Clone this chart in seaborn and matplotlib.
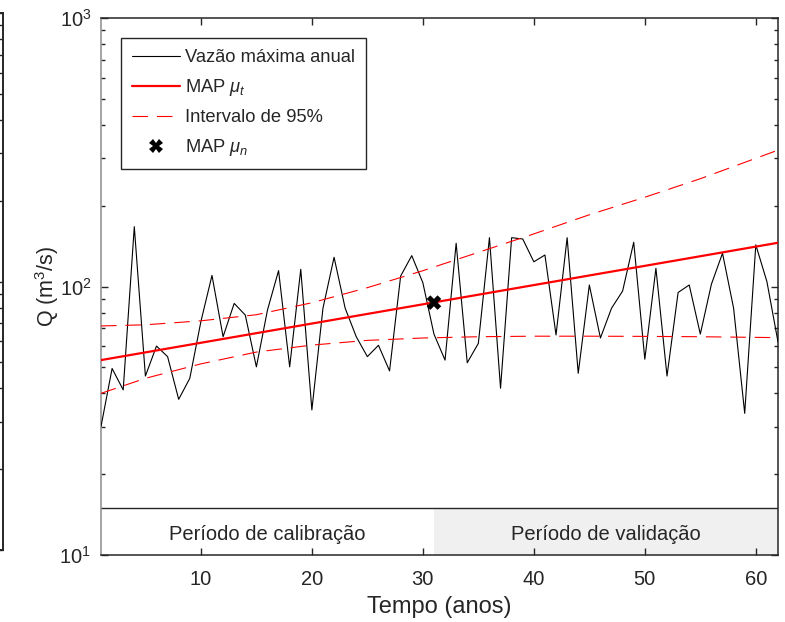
import numpy as np
import pandas as pd
import matplotlib
matplotlib.use("Agg")
import matplotlib.pyplot as plt
from matplotlib.lines import Line2D
import seaborn as sns

# annual maximum flow (m3/s), years 1..62
anos = np.arange(1, 63)
vazao = [30.1, 49.5, 41.2, 167.0, 46.4, 60.0, 54.8, 38.0, 45.5, 74.0,
         110.0, 65.0, 86.5, 78.3, 50.2, 81.7, 114.6, 50.2, 115.9, 34.7,
         83.0, 128.5, 83.0, 65.0, 54.8, 60.4, 48.5, 109.4, 130.3, 103.3,
         66.5, 53.2, 144.9, 52.0, 61.4, 152.0, 41.8, 152.0, 150.3, 123.6,
         131.0, 66.0, 152.0, 47.5, 101.3, 64.3, 83.0, 96.2, 146.2, 53.6,
         116.9, 46.4, 95.0, 101.3, 66.5, 102.0, 133.0, 83.0, 33.7, 142.9,
         104.3, 62.2]

# MAP trend (straight on the log axis), end points
map_anos = [1, 62]
map_mu_t = [53.2, 145.5]

# 95% interval read at some years
int_anos = [1, 5, 10, 15, 20, 25, 30, 35, 40, 45, 50, 55, 62]
int_sup = [71.3, 72.0, 74.5, 78.5, 87.0, 99.0, 114.5, 134.0, 157.0, 185.0, 215.0, 252.0, 322.0]
int_inf = [40.0, 45.5, 51.5, 57.0, 60.5, 63.0, 64.3, 65.0, 65.3, 65.3, 65.2, 65.0, 64.5]

# MAP mu_n
mu_n_ano = [31]
mu_n_val = [87.1]

# periods
calib = (1, 31)
valid = (31, 62)
faixa_topo = 15.0

df = pd.DataFrame({"ano": anos, "vazao": vazao})
band = pd.DataFrame({"ano": int_anos, "sup": int_sup, "inf": int_inf})
trend = pd.DataFrame({"ano": map_anos, "mu": map_mu_t})

sns.set_style("ticks")
plt.rcParams["font.family"] = ["Liberation Sans", "DejaVu Sans"]
plt.rcParams["mathtext.fontset"] = "custom"
plt.rcParams["mathtext.rm"] = "Liberation Sans"
plt.rcParams["mathtext.it"] = "Liberation Sans:italic"

axcol = "#262626"
fig = plt.figure(figsize=(7.85, 6.22), dpi=100)

# sliver of the neighbouring panel on the left edge
ax0 = fig.add_axes([(3 - 200) / 785, (622 - 550) / 622, 200 / 785, 537 / 622])
ax0.set_yscale("log")
ax0.set_ylim(10, 1000)
ax0.set_xlim(0, 1)
ax0.yaxis.tick_right()
ax0.tick_params(axis="y", which="both", direction="in", labelright=False, color=axcol, width=1.0)
ax0.tick_params(axis="y", which="major", length=5)
ax0.tick_params(axis="y", which="minor", length=3)
ax0.set_xticks([])
for s in ax0.spines.values():
    s.set_color(axcol)
    s.set_linewidth(1.4)

ax = fig.add_axes([101 / 785, 1 - 555 / 622, 677 / 785, 537 / 622])
ax.set_yscale("log")

# period boxes at the bottom
ax.fill_between(list(valid), 10, faixa_topo, color="#f0f0f0", lw=0, zorder=0)
ax.axhline(faixa_topo, color=axcol, lw=1.0, zorder=1)
ax.text(np.mean(calib), 11.9, "Período de calibração", ha="center", va="center", fontsize=14.5)
ax.text(np.mean(valid), 11.9, "Período de validação", ha="center", va="center", fontsize=14.5)

sns.lineplot(data=df, x="ano", y="vazao", color="black", lw=0.8, ax=ax, zorder=3)
sns.lineplot(data=band, x="ano", y="sup", color="red", lw=0.8, dashes=(14, 8), ax=ax, zorder=4)
sns.lineplot(data=band, x="ano", y="inf", color="red", lw=0.8, dashes=(14, 8), ax=ax, zorder=4)
sns.lineplot(data=trend, x="ano", y="mu", color="red", lw=1.6, ax=ax, zorder=5)
sns.scatterplot(x=mu_n_ano, y=mu_n_val, marker="X", s=110, color="black", edgecolor="none", ax=ax, zorder=6)

ax.set_xlim(1, 62)
ax.set_ylim(10, 1000)
ax.set_xticks([10, 20, 30, 40, 50, 60])
ax.tick_params(which="both", direction="in", top=True, right=True, color=axcol, labelsize=14.5, width=1.0)
ax.tick_params(which="major", length=5)
ax.tick_params(which="minor", length=3)
ax.tick_params(axis="x", pad=11)
ax.tick_params(axis="y", pad=7)
for s in ax.spines.values():
    s.set_color(axcol)
    s.set_linewidth(1.1)
ax.spines["left"].set_color("#8c8c8c")

ax.set_xlabel("Tempo (anos)", fontsize=17, labelpad=5)
ax.set_ylabel("Q (m$^3$/s)", fontsize=15.5, labelpad=-1)

handles = [
    Line2D([], [], color="black", lw=0.8),
    Line2D([], [], color="red", lw=1.6),
    Line2D([], [], color="red", lw=0.8, dashes=(14, 8)),
    Line2D([], [], color="black", marker="X", ms=10, mew=0, ls="none"),
]
labels = ["Vazão máxima anual", "MAP $\\mu_t$", "Intervalo de 95%", "MAP $\\mu_n$"]
leg = ax.legend(handles, labels, loc="upper left", bbox_to_anchor=(20 / 677, 1 - 20 / 537),
                borderaxespad=0, fontsize=13.2, handlelength=2.6, handletextpad=0.3,
                labelspacing=0.6, borderpad=0.6,
                frameon=True, fancybox=False, framealpha=1, edgecolor=axcol)
leg.get_frame().set_linewidth(1.0)

plt.savefig("out.png", dpi=100)
